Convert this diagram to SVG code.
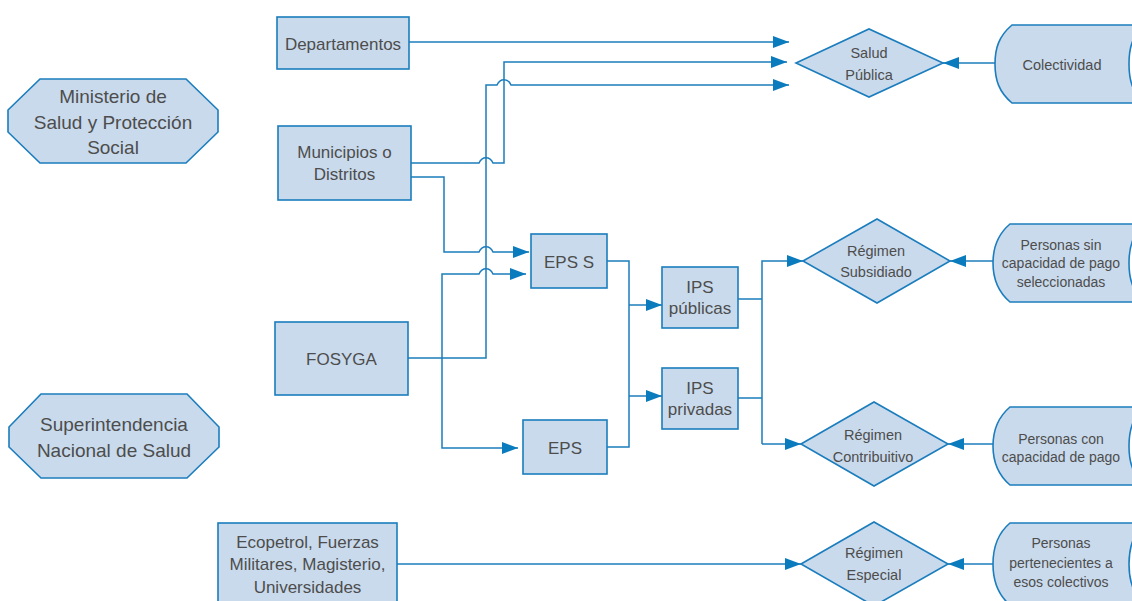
<svg xmlns="http://www.w3.org/2000/svg" width="1132" height="601" viewBox="0 0 1132 601">
<style>
.n{fill:#c9daec;stroke:#1b7dbd;stroke-width:1.6}
.t{font-family:"Liberation Sans",Arial,sans-serif;fill:#4d4d4d;text-anchor:middle}
.b{font-size:17px}
.o{font-size:19px}
.d{font-size:14.5px}
.p{font-size:14px}
.c{fill:none;stroke:#1b7dbd;stroke-width:1.5}
.a{marker-end:url(#ah)}
</style>
<defs>
<marker id="ah" viewBox="0 0 16 12" markerWidth="16" markerHeight="12" refX="16" refY="6" orient="auto" markerUnits="userSpaceOnUse">
<path d="M0,0 L16,6 L0,12 Z" fill="#0a7bbd"/>
</marker>
</defs>
<rect width="1132" height="601" fill="#ffffff"/>

<g id="connectors">
<path class="c a" d="M409,42 H789"/>
<path class="c a" d="M411,163 H479 C482,156 490,156 493,163 H504 V62 H787"/>
<path class="c a" d="M408,358 H486 V85 H497 C500,78 508,78 511,85 H789"/>
<path class="c a" d="M411,177 H444 V252 H479 C482,245 490,245 493,252 H529"/>
<path class="c a" d="M442,358 V274 H479 C482,267 490,267 493,274 H526"/>
<path class="c a" d="M442,358 V448 H518"/>
<path class="c" d="M607,261 H629 V447 H607"/>
<path class="c a" d="M629,305 H662"/>
<path class="c a" d="M629,396 H662"/>
<path class="c" d="M735,299 H762 M735,398 H762"/>
<path class="c a" d="M762,444 V261 H803"/>
<path class="c a" d="M762,444 H801"/>
<path class="c a" d="M995,63 H943"/>
<path class="c a" d="M993,261 H950"/>
<path class="c a" d="M993,444 H948"/>
<path class="c a" d="M993,564 H948"/>
<path class="c a" d="M397,564 H801"/>
</g>

<g id="ministerio">
<polygon class="n" points="40,79 186,79 218,110 218,132 186,163 40,163 8,132 8,110"/>
<text class="t o" x="113" y="103">Ministerio de</text>
<text class="t o" x="113" y="129">Salud y Protección</text>
<text class="t o" x="113" y="154">Social</text>
</g>
<g id="superintendencia">
<polygon class="n" points="41,394 187,394 219,427 219,447 187,478 41,478 9,447 9,427"/>
<text class="t o" x="114" y="431">Superintendencia</text>
<text class="t o" x="114" y="457">Nacional de Salud</text>
</g>

<g id="departamentos">
<rect class="n" x="277" y="17" width="132" height="52"/>
<text class="t b" x="343" y="50">Departamentos</text>
</g>
<g id="municipios">
<rect class="n" x="278" y="126" width="133" height="74"/>
<text class="t b" x="344.5" y="158">Municipios o</text>
<text class="t b" x="344.5" y="180">Distritos</text>
</g>
<g id="fosyga">
<rect class="n" x="275" y="322" width="133" height="73"/>
<text class="t b" x="341.5" y="365">FOSYGA</text>
</g>
<g id="eps-s">
<rect class="n" x="531" y="234" width="76" height="54"/>
<text class="t b" x="569" y="268">EPS S</text>
</g>
<g id="eps">
<rect class="n" x="523" y="420" width="84" height="54"/>
<text class="t b" x="565" y="454">EPS</text>
</g>
<g id="ips-publicas">
<rect class="n" x="662" y="267" width="76" height="61"/>
<text class="t b" x="700" y="293">IPS</text>
<text class="t b" x="700" y="314">públicas</text>
</g>
<g id="ips-privadas">
<rect class="n" x="662" y="368" width="76" height="61"/>
<text class="t b" x="700" y="394">IPS</text>
<text class="t b" x="700" y="415">privadas</text>
</g>
<g id="ecopetrol">
<rect class="n" x="218" y="523" width="179" height="90"/>
<text class="t b" x="307.5" y="548">Ecopetrol, Fuerzas</text>
<text class="t b" x="307.5" y="570">Militares, Magisterio,</text>
<text class="t b" x="307.5" y="593">Universidades</text>
</g>

<g id="salud-publica">
<polygon class="n" points="796,63 869,29 943,63 869,97"/>
<text class="t d" x="869" y="58">Salud</text>
<text class="t d" x="869" y="80">Pública</text>
</g>
<g id="regimen-subsidiado">
<polygon class="n" points="803,261 877,219 950,261 877,303"/>
<text class="t d" x="876" y="256">Régimen</text>
<text class="t d" x="876" y="277">Subsidiado</text>
</g>
<g id="regimen-contributivo">
<polygon class="n" points="801,444 874,402 948,444 874,486"/>
<text class="t d" x="873" y="440">Régimen</text>
<text class="t d" x="873" y="462">Contribuitivo</text>
</g>
<g id="regimen-especial">
<polygon class="n" points="801,564 874,522 948,564 874,606"/>
<text class="t d" x="874" y="558">Régimen</text>
<text class="t d" x="874" y="580">Especial</text>
</g>

<g id="colectividad">
<path class="n" d="M1012,25 C999,36 995,48 995,64 C995,80 999,92 1012,103 H1145 C1132,92 1129,80 1129,64 C1129,48 1132,36 1145,25 Z"/>
<text class="t d" x="1062" y="70">Colectividad</text>
</g>
<g id="personas-sin">
<path class="n" d="M1010,224 C997,235 993,248 993,263 C993,278 997,291 1010,302 H1145 C1132,291 1129,278 1129,263 C1129,248 1132,235 1145,224 Z"/>
<text class="t p" x="1061" y="250">Personas sin</text>
<text class="t p" x="1061" y="268">capacidad de pago</text>
<text class="t p" x="1061" y="287">seleccionadas</text>
</g>
<g id="personas-con">
<path class="n" d="M1010,407 C997,418 993,431 993,446 C993,461 997,474 1010,485 H1145 C1132,474 1129,461 1129,446 C1129,431 1132,418 1145,407 Z"/>
<text class="t p" x="1061" y="444">Personas con</text>
<text class="t p" x="1061" y="462">capacidad de pago</text>
</g>
<g id="personas-pertenecientes">
<path class="n" d="M1010,523 C997,534 993,549 993,564 C993,579 997,594 1010,605 H1145 C1132,594 1129,579 1129,564 C1129,549 1132,534 1145,523 Z"/>
<text class="t p" x="1061" y="548">Personas</text>
<text class="t p" x="1061" y="568">pertenecientes a</text>
<text class="t p" x="1061" y="587">esos colectivos</text>
</g>
</svg>
